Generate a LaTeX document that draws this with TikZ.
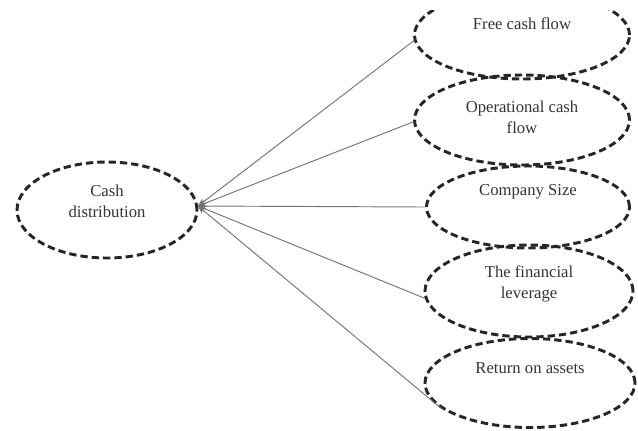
\documentclass[tikz,border=0pt]{standalone}
\usepackage{fontspec}
\setmainfont{Liberation Serif}
\usetikzlibrary{shapes.geometric,arrows.meta}
\begin{document}
\begin{tikzpicture}[x=0.75pt,y=-0.75pt,
  ell/.style 2 args={ellipse,draw=black!85,line width=2.2pt,dash pattern=on 5.5pt off 3pt,
     minimum width=#1*0.75pt,minimum height=#2*0.75pt,inner sep=0pt},
  txt/.style={align=center,font=\fontsize{12.5}{15.5}\selectfont,text=black!80},
  conn/.style={draw=black!55,line width=0.7pt,-{Stealth[length=6pt,width=5pt]}}]
\useasboundingbox (0,0) rectangle (638,430);
\node[ell={180}{96}] (cd) at (107,210) {};
\begin{scope}
\clip (0,10) rectangle (638,430);
\node[ell={215}{88}] (fcf) at (522,35) {};
\end{scope}
\node[ell={215}{90}] (ocf) at (522,120) {};
\node[ell={203}{82}] (cs) at (528,207) {};
\node[ell={208}{92}] (fl) at (529,291) {};
\node[ell={210}{89}] (roa) at (530,383) {};
\node[txt] (tcd) at (107,201) {Cash\\distribution};
\node[txt] (tfcf) at (522,24) {Free cash flow};
\node[txt] (tocf) at (522,117) {Operational cash\\flow};
\node[txt] (tcs) at (528,192) {Company Size};
\node[txt] (tfl) at (529,284) {The financial\\leverage};
\node[txt] (troa) at (530,368) {Return on assets};
\coordinate (tip) at (198,206);
\draw[conn] (fcf.183) -- (tip);
\draw[conn] (ocf.181) -- (tip);
\draw[conn] (cs.west) -- (tip);
\draw[conn] (fl.184) -- (tip);
\draw[conn] (roa.196) -- (tip);
\end{tikzpicture}
\end{document}
